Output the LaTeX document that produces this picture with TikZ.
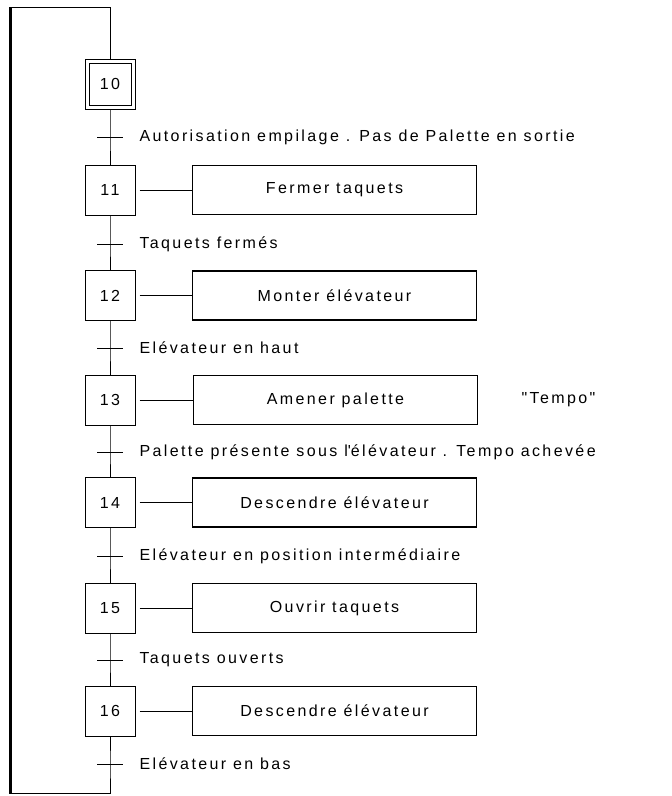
\documentclass[tikz,border=0pt]{standalone}
\usepackage{fontspec}
\newfontfamily\grafcetfont{Liberation Sans}[LetterSpace=15]

\begin{document}
\begin{tikzpicture}[x=1pt, y=-1pt, line width=1pt,
    font=\grafcetfont\fontsize{16}{19}\selectfont,
    stepbox/.style={draw, minimum size=50pt, inner sep=0pt},
    initstep/.style={draw, double, double distance=3pt, minimum size=46pt, inner sep=0pt, outer sep=2.5pt},
    actionbox/.style={draw, line width=1.2pt, minimum width=284pt, minimum height=49pt, inner sep=0pt},
    translabel/.style={anchor=west, inner sep=0pt}]
    \useasboundingbox (0,0) rectangle (672,796);

    % Steps
    \node[initstep] (s10) at (110,84) {10};
    \node[stepbox] (s11) at (110,190) {11};
    \node[stepbox] (s12) at (110,295.5) {12};
    \node[stepbox] (s13) at (110,400) {13};
    \node[stepbox] (s14) at (110,502.5) {14};
    \node[stepbox] (s15) at (110,608) {15};
    \node[stepbox] (s16) at (110,711) {16};

    % Actions
    \node[actionbox] (a11) at (334.5,190) {Fermer taquets};
    \node[actionbox] (a12) at (334.5,295.5) {Monter élévateur};
    \node[actionbox] (a13) at (335.5,400) {Amener palette};
    \node[actionbox] (a14) at (334.5,502.5) {Descendre élévateur};
    \node[actionbox] (a15) at (334.5,608) {Ouvrir taquets};
    \node[actionbox] (a16) at (334.5,711) {Descendre élévateur};
    \node (tempo) at (558.5,400) {"Tempo"};

    % Transitions
    \coordinate (t1) at (110,137.5);
    \coordinate (t2) at (110,244);
    \coordinate (t3) at (110,348);
    \coordinate (t4) at (110,452);
    \coordinate (t5) at (110,556);
    \coordinate (t6) at (110,660);
    \coordinate (t7) at (110,764);
    \node[translabel] (l1) at (139,137.5) {Autorisation empilage . Pas de Palette en sortie};
    \node[translabel] (l2) at (139,244) {Taquets fermés};
    \node[translabel] (l3) at (139,348) {Elévateur en haut};
    \node[translabel] (l4) at (139,452) {Palette présente sous l\textquotesingle élévateur . Tempo achevée};
    \node[translabel] (l5) at (139,556) {Elévateur en position intermédiaire};
    \node[translabel] (l6) at (139,660) {Taquets ouverts};
    \node[translabel] (l7) at (139,764) {Elévateur en bas};
    \draw ([xshift=-13pt]t1) -- ([xshift=13pt]t1);
    \draw ([xshift=-13pt]t2) -- ([xshift=13pt]t2);
    \draw ([xshift=-13pt]t3) -- ([xshift=13pt]t3);
    \draw ([xshift=-13pt]t4) -- ([xshift=13pt]t4);
    \draw ([xshift=-13pt]t5) -- ([xshift=13pt]t5);
    \draw ([xshift=-13pt]t6) -- ([xshift=13pt]t6);
    \draw ([xshift=-13pt]t7) -- ([xshift=13pt]t7);

    % Links
    \draw (s10.south) -- (t1) -- (s11.north);
    \draw (s11.south) -- (t2) -- (s12.north);
    \draw (s12.south) -- (t3) -- (s13.north);
    \draw (s13.south) -- (t4) -- (s14.north);
    \draw (s14.south) -- (t5) -- (s15.north);
    \draw (s15.south) -- (t6) -- (s16.north);
    \draw ([xshift=4pt]s11.east) -- (a11.west);
    \draw ([xshift=4pt]s12.east) -- (a12.west);
    \draw ([xshift=4pt]s13.east) -- (a13.west);
    \draw ([xshift=4pt]s14.east) -- (a14.west);
    \draw ([xshift=4pt]s15.east) -- (a15.west);
    \draw ([xshift=4pt]s16.east) -- (a16.west);

    % Loop back to step 10
    \coordinate (retTL) at (10,7);
    \coordinate (retBL) at (10,793);
    \draw (s16.south) -- (t7) |- (retBL);
    \draw[line width=3pt, shorten <=-0.5pt, shorten >=-0.5pt] (retBL) -- (retTL);
    \draw (retTL) -| (s10.north);
\end{tikzpicture}
\end{document}
